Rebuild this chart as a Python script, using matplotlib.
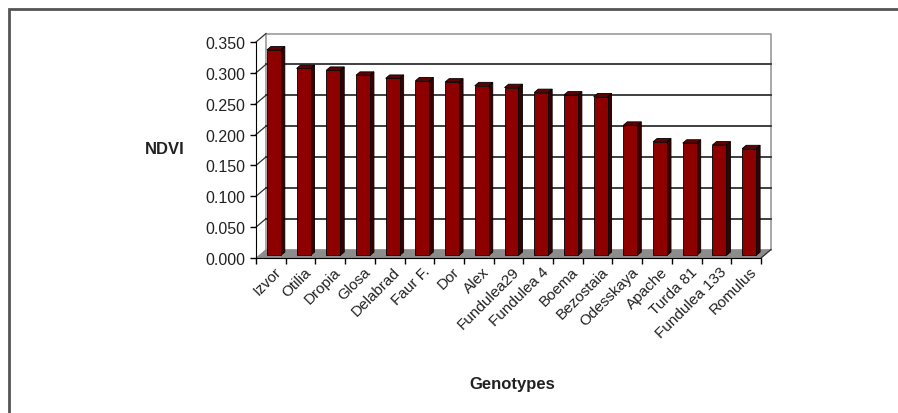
import matplotlib.pyplot as plt
from matplotlib.patches import Polygon, Rectangle
from matplotlib.transforms import ScaledTranslation
import numpy as np

plt.rcParams['font.family'] = ['Liberation Sans', 'DejaVu Sans']

genotypes = ['Izvor', 'Otilia', 'Dropia', 'Glosa', 'Delabrad', 'Faur F.', 'Dor',
             'Alex', 'Fundulea29', 'Fundulea 4', 'Boema', 'Bezostaia', 'Odesskaya',
             'Apache', 'Turda 81', 'Fundulea 133', 'Romulus']
ndvi = [0.333, 0.303, 0.300, 0.292, 0.287, 0.283, 0.281, 0.275, 0.272, 0.264,
        0.260, 0.257, 0.211, 0.184, 0.182, 0.179, 0.173]
yticks = [0.000, 0.050, 0.100, 0.150, 0.200, 0.250, 0.300, 0.350]

W, H = 898, 414
fig = plt.figure(figsize=(W / 100, H / 100), dpi=100)
ax = fig.add_axes([256 / W, 1 - 259 / H, 505 / W, 216 / H])
n = len(genotypes)
ymax = 0.35
ax.set_xlim(0, n)
ax.set_ylim(0, ymax)
ax.patch.set_visible(False)
for s in ['top', 'right']:
    ax.spines[s].set_visible(False)
ax.spines['left'].set_color('black')
ax.spines['bottom'].set_color('black')

# depth of the "3d" box, 10 px right / 8.5 px up, in data units
inv = ax.transData.inverted()
p0 = inv.transform((0, 0))
p1 = inv.transform((10, 8.5))
DX, DY = p1 - p0

# back wall
wall_kw = dict(color='#9a9a9a', lw=1.2, clip_on=False, zorder=1)
ax.plot([DX, DX, n + DX, n + DX], [DY, ymax + DY, ymax + DY, DY], **wall_kw)
for y in yticks[1:-1]:
    ax.plot([DX, n + DX], [y + DY, y + DY], color='#303030', lw=1.3,
            clip_on=False, zorder=1)
# side wall stubs from the value axis back to the wall
for y in yticks[1:]:
    ax.plot([0, DX], [y, y + DY], color='#303030', lw=0.9, clip_on=False, zorder=1)

# floor
floor = Polygon([(0, 0), (n, 0), (n + DX, DY), (DX, DY)], closed=True,
                facecolor='#8c8c8c', edgecolor='#8c8c8c', lw=0.5,
                clip_on=False, zorder=2)
ax.add_patch(floor)
ax.plot([n, n + DX], [0, DY], color='#303030', lw=0.9, clip_on=False, zorder=2)

# bars (front face sits 30% into the depth, back face 70%)
bw = 0.47
f, b = 0.30, 0.70
x = np.arange(n) + 0.5
for xi, v in zip(x, ndvi):
    x0 = xi - bw / 2 + f * DX
    x1 = xi + bw / 2 + f * DX
    y0 = f * DY
    sx = (b - f) * DX
    sy = (b - f) * DY
    side = Polygon([(x1, y0), (x1 + sx, y0 + sy), (x1 + sx, v + y0 + sy), (x1, v + y0)],
                   closed=True, facecolor='#3a0000', edgecolor='black', lw=0.6,
                   clip_on=False, zorder=3)
    top = Polygon([(x0, v + y0), (x1, v + y0), (x1 + sx, v + y0 + sy), (x0 + sx, v + y0 + sy)],
                  closed=True, facecolor='#650000', edgecolor='black', lw=0.6,
                  clip_on=False, zorder=3)
    ax.add_patch(side)
    ax.add_patch(top)
    ax.bar(x0, v, width=bw, bottom=y0, align='edge', color='#8e0000',
           edgecolor='black', lw=0.6, clip_on=False, zorder=4)

# axes, ticks, labels
ax.set_yticks(yticks)
ax.set_yticklabels([f'{t:.3f}' for t in yticks])
ax.tick_params(axis='y', direction='out', length=4, width=1, pad=4, labelsize=11.5,
               labelcolor='#222222')
ax.set_xticks(np.arange(n + 1))
ax.set_xticklabels([])
ax.set_xticks(x, minor=True)
ax.set_xticklabels(genotypes, minor=True, rotation=45, ha='right', va='center',
                   rotation_mode='anchor', fontsize=11, color='#222222')
ax.tick_params(axis='x', which='major', direction='out', length=4, width=1)
ax.tick_params(axis='x', which='minor', length=0, pad=8)
shift = ScaledTranslation(6 / 72, 0, fig.dpi_scale_trans)
for lbl in ax.get_xticklabels(minor=True):
    lbl.set_transform(lbl.get_transform() + shift)

fig.text(165 / W, 1 - 150 / H, 'NDVI', ha='center', va='center',
         fontsize=12, fontweight='bold', color='#222222')
fig.text(512 / W, 1 - 385 / H, 'Genotypes', ha='center', va='center',
         fontsize=12, fontweight='bold', color='#222222')

# outer chart border
fig.patches.append(Rectangle((9 / W, -0.05), 1.0, 1 - 10 / H + 0.05,
                             transform=fig.transFigure, fill=False,
                             edgecolor='#555555', lw=2))

fig.savefig('out.png', dpi=100)
